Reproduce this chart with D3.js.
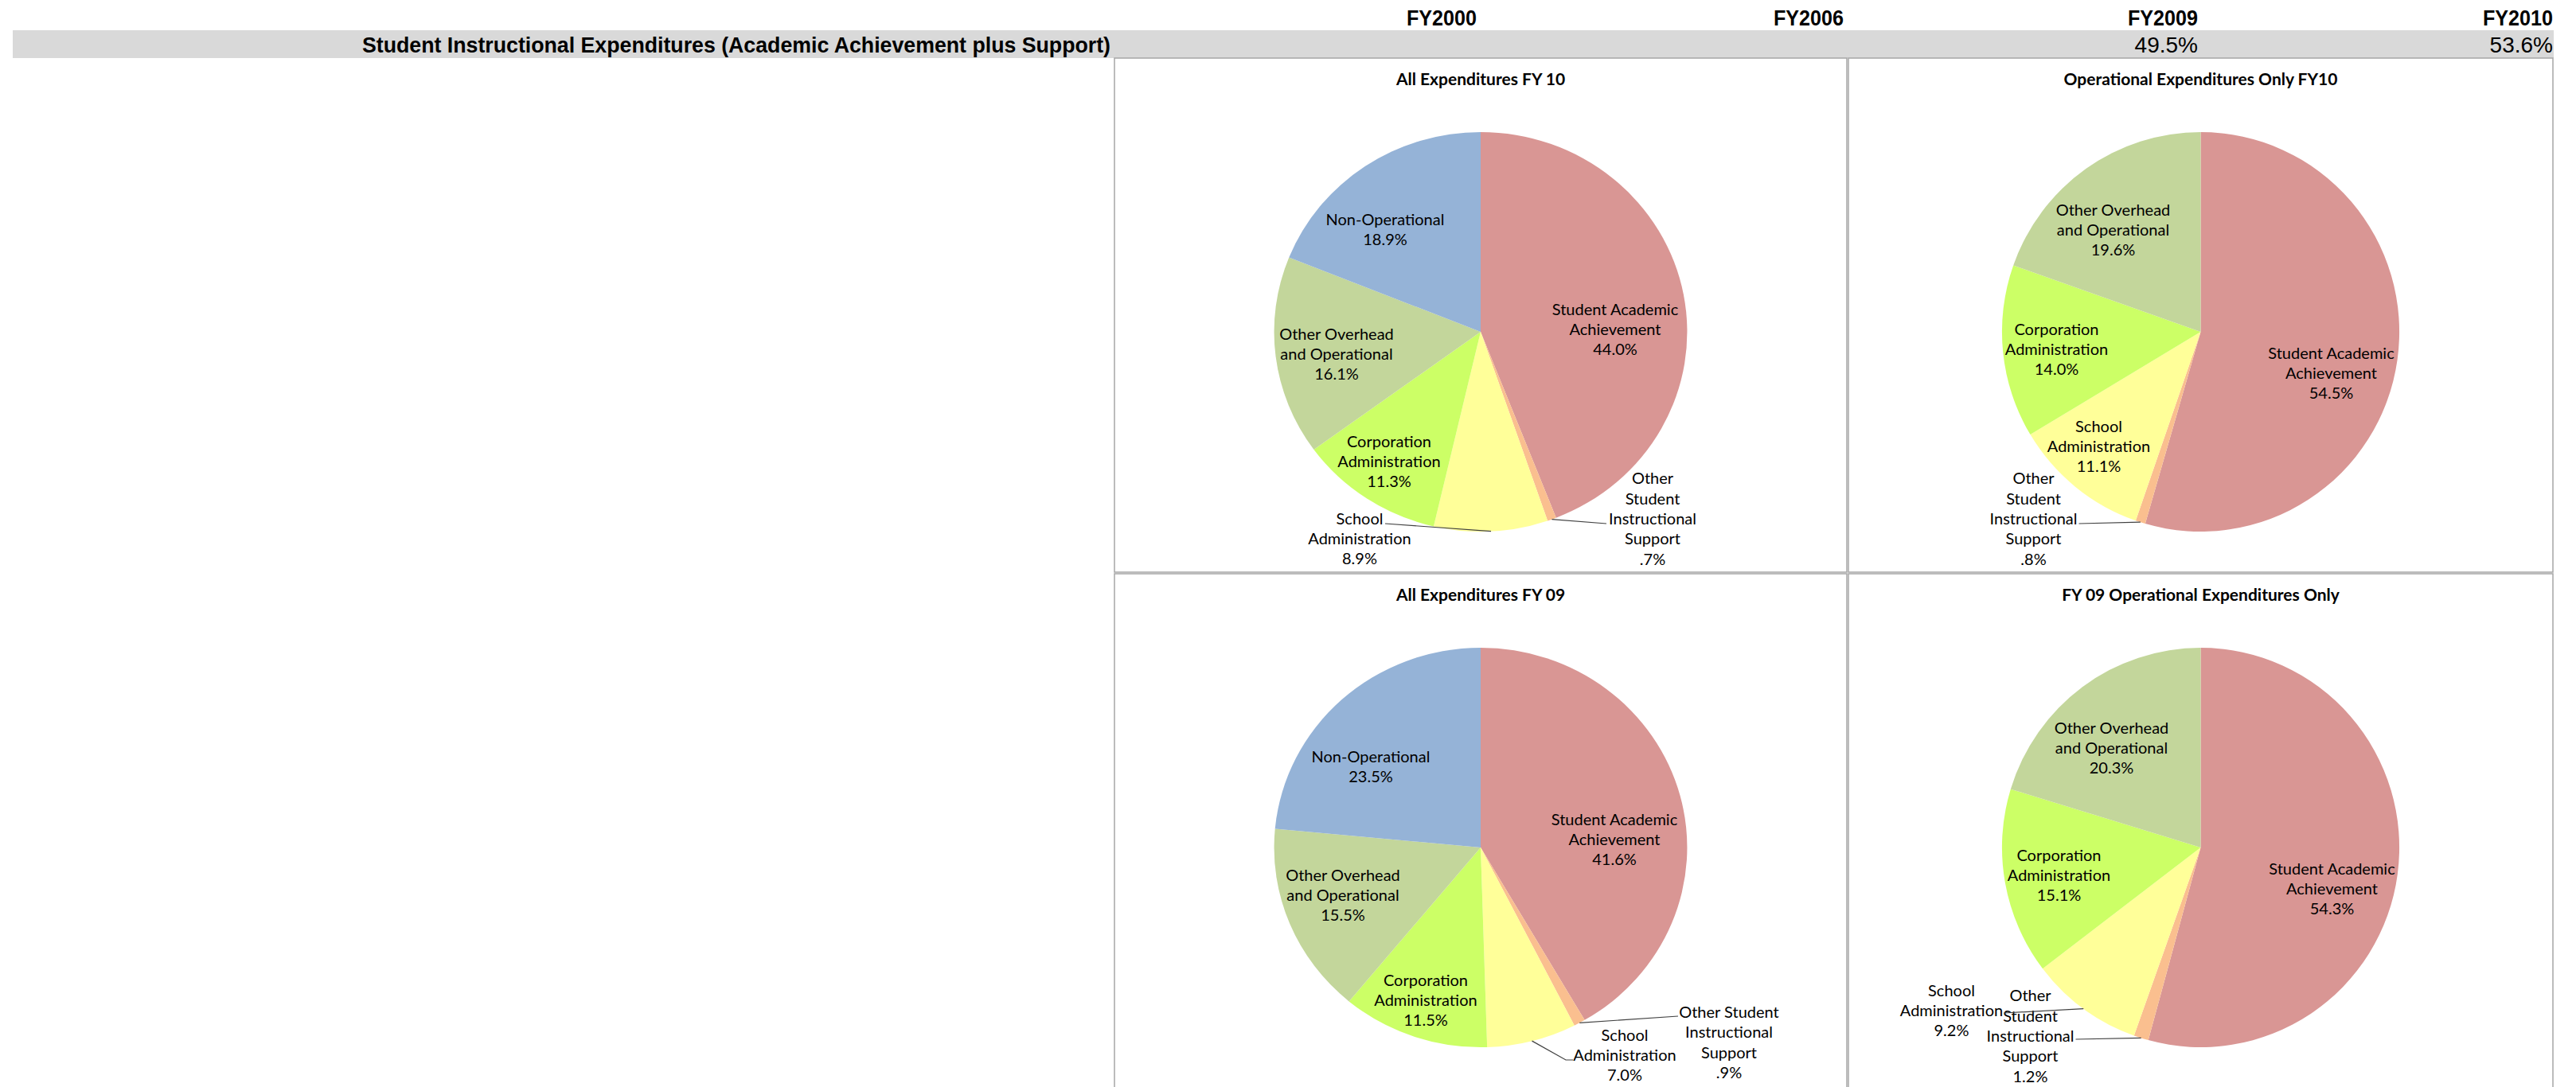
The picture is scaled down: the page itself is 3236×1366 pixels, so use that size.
<!DOCTYPE html>
<html>
<head>
<meta charset="utf-8">
<script src="https://cdn.jsdelivr.net/npm/d3@7"></script>
<style>
  body { margin: 0; background: #fff; }
  svg { display: block; }
</style>
</head>
<body>
<svg width="3236" height="1366"></svg>
<script>
  // data
  var rowTitle = "Student Instructional Expenditures (Academic Achievement plus Support)";
  var yearLabels = ["FY2000", "FY2006", "FY2009", "FY2010"];
  var instructionalShare = [null, null, 49.5, 53.6];

  var categories = ["Student Academic Achievement", "Other Student Instructional Support",
    "School Administration", "Corporation Administration",
    "Other Overhead and Operational", "Non-Operational"];

  var chartTitles = ["All Expenditures FY 10", "Operational Expenditures Only FY10",
    "All Expenditures FY 09", "FY 09 Operational Expenditures Only"];

  var allFY10 = [44.0, 0.7, 8.9, 11.3, 16.1, 18.9];
  var opFY10  = [54.5, 0.8, 11.1, 14.0, 19.6, null];
  var allFY09 = [41.6, 0.9, 7.0, 11.5, 15.5, 23.5];
  var opFY09  = [54.3, 1.2, 9.2, 15.1, 20.3, null];
  var seriesList = [allFY10, opFY10, allFY09, opFY09];

  var colors = ["#D99694", "#FABF8F", "#FFFF99", "#CCFF66", "#C3D69B", "#95B3D7"];

  // layout: chart boxes and label placement (offsets from pie centre)
  var boxes = [
    {x: 1400, y: 73, w: 920, h: 646},
    {x: 2322, y: 73, w: 885, h: 646},
    {x: 1400, y: 721, w: 920, h: 660},
    {x: 2322, y: 721, w: 885, h: 660}
  ];

  var labelLayout = [
    [ {dx: 169, dy: -4, lines: ["Student Academic", "Achievement"]},
      {dx: 216, dy: 234, lines: ["Other", "Student", "Instructional", "Support"], lead: [158, 241]},
      {dx: -152, dy: 259, lines: ["School", "Administration"], lead: [-120, 241]},
      {dx: -115, dy: 162, lines: ["Corporation", "Administration"]},
      {dx: -181, dy: 27, lines: ["Other Overhead", "and Operational"]},
      {dx: -120, dy: -129.5, lines: ["Non-Operational"]} ],
    [ {dx: 164, dy: 51, lines: ["Student Academic", "Achievement"]},
      {dx: -210, dy: 234, lines: ["Other", "Student", "Instructional", "Support"], lead: [-153, 241]},
      {dx: -128, dy: 143, lines: ["School", "Administration"]},
      {dx: -181, dy: 21, lines: ["Corporation", "Administration"]},
      {dx: -110, dy: -129, lines: ["Other Overhead", "and Operational"]},
      null ],
    [ {dx: 168, dy: -11, lines: ["Student Academic", "Achievement"]},
      {dx: 312, dy: 244, lines: ["Other Student", "Instructional", "Support"], lead: [248, 212]},
      {dx: 181, dy: 260, lines: ["School", "Administration"], lead: [116, 267], elbow: [107, 267]},
      {dx: -69, dy: 191, lines: ["Corporation", "Administration"]},
      {dx: -173, dy: 59, lines: ["Other Overhead", "and Operational"]},
      {dx: -138, dy: -102.5, lines: ["Non-Operational"]} ],
    [ {dx: 165, dy: 51, lines: ["Student Academic", "Achievement"]},
      {dx: -214, dy: 236, lines: ["Other", "Student", "Instructional", "Support"], lead: [-157, 241]},
      {dx: -313, dy: 204, lines: ["School", "Administration"], lead: [-247, 208]},
      {dx: -178, dy: 34, lines: ["Corporation", "Administration"]},
      {dx: -112, dy: -126, lines: ["Other Overhead", "and Operational"]},
      null ]
  ];

  var svg = d3.select("svg");
  var fmt = function(v) { return v.toFixed(1).replace(/^0\./, ".") + "%"; };

  // header row
  var colRight = [1855, 2316, 2761, 3207];
  svg.append("rect").attr("x", 16).attr("y", 38).attr("width", 3192).attr("height", 35).attr("fill", "#D9D9D9");

  svg.append("text")
    .attr("x", 1395).attr("y", 66)
    .attr("text-anchor", "end")
    .attr("font-family", "'Liberation Sans', Arial, sans-serif")
    .attr("font-weight", "bold").attr("font-size", 28)
    .attr("textLength", 940).attr("lengthAdjust", "spacingAndGlyphs")
    .text(rowTitle);

  svg.selectAll("text.year")
    .data(yearLabels)
    .enter().append("text")
      .attr("class", "year")
      .attr("x", function(d, i) { return colRight[i]; })
      .attr("y", 32)
      .attr("text-anchor", "end")
      .attr("font-family", "'Liberation Sans', Arial, sans-serif")
      .attr("font-weight", "bold").attr("font-size", 28)
      .attr("textLength", 88).attr("lengthAdjust", "spacingAndGlyphs")
      .text(function(d) { return d; });

  svg.selectAll("text.share")
    .data(instructionalShare)
    .enter().filter(function(d) { return d != null; }).append("text")
      .attr("class", "share")
      .attr("x", function(d) { return colRight[instructionalShare.indexOf(d)]; })
      .attr("y", 66)
      .attr("text-anchor", "end")
      .attr("font-family", "'Liberation Sans', Arial, sans-serif")
      .attr("font-size", 28)
      .text(function(d) { return fmt(d); });

  // charts
  var pie = d3.pie().sort(null).value(function(d) { return d.value; });
  var ry = 251, lh = 25.3;

  boxes.forEach(function(b, k) {
    var cx = b.x + b.w / 2, cy = b.y + 344, rx = 0.282 * b.w;
    var g = svg.append("g");

    g.append("rect")
      .attr("x", b.x).attr("y", b.y).attr("width", b.w).attr("height", b.h)
      .attr("fill", "#fff").attr("stroke", "#A6A6A6").attr("stroke-width", 1.5);

    g.append("text")
      .attr("x", cx).attr("y", b.y + 25)
      .attr("text-anchor", "middle").attr("dominant-baseline", "central")
      .attr("font-family", "Lato, 'Open Sans', sans-serif")
      .attr("font-weight", "bold").attr("font-size", 21)
      .text(chartTitles[k]);

    var rows = categories.map(function(c, i) {
      return {name: c, value: seriesList[k][i], idx: i};
    }).filter(function(d) { return d.value != null; });
    var arcs = pie(rows);

    g.append("g")
      .attr("transform", "translate(" + cx + "," + cy + ") scale(" + (rx / ry) + ",1)")
      .selectAll("path")
      .data(arcs)
      .enter().append("path")
        .attr("d", d3.arc().innerRadius(0).outerRadius(ry))
        .attr("fill", function(d) { return colors[d.data.idx]; });

    arcs.forEach(function(a) {
      var L = labelLayout[k][a.data.idx];
      if (!L) return;
      var lines = L.lines.concat([fmt(a.data.value)]);
      var n = lines.length;
      var t = g.append("text")
        .attr("text-anchor", "middle")
        .attr("font-family", "Lato, 'Open Sans', sans-serif")
        .attr("font-size", 20)
        .attr("fill", "#000");
      lines.forEach(function(s, j) {
        t.append("tspan")
          .attr("x", cx + L.dx)
          .attr("y", cy + L.dy + (j - (n - 1) / 2) * lh)
          .attr("dominant-baseline", "central")
          .text(s);
      });
      if (L.lead) {
        var mid = (a.startAngle + a.endAngle) / 2;
        var pts = [[cx + L.lead[0], cy + L.lead[1]]];
        if (L.elbow) pts.push([cx + L.elbow[0], cy + L.elbow[1]]);
        pts.push([cx + rx * Math.sin(mid), cy - ry * Math.cos(mid)]);
        g.append("path")
          .attr("d", d3.line()(pts))
          .attr("fill", "none").attr("stroke", "#404040").attr("stroke-width", 1.2);
      }
    });
  });
</script>
</body>
</html>
